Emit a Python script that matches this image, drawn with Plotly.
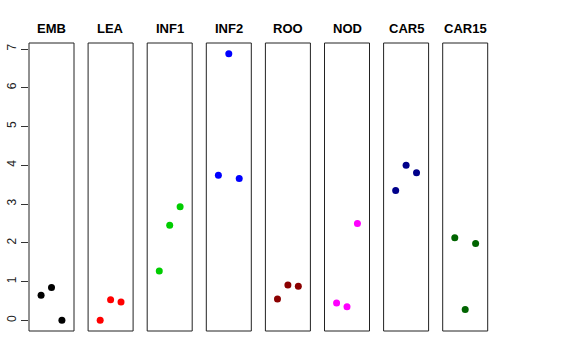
import plotly.graph_objects as go

tissues = ["EMB", "LEA", "INF1", "INF2", "ROO", "NOD", "CAR5", "CAR15"]
colors = ["#000000", "#FF0000", "#00CD00", "#0000FF", "#8B0000", "#FF00FF", "#00008B", "#006400"]
x_pos = [1, 2, 3]
values = [
    [0.65, 0.85, 0.00],
    [0.00, 0.53, 0.47],
    [1.27, 2.45, 2.93],
    [3.74, 6.88, 3.66],
    [0.55, 0.91, 0.88],
    [0.45, 0.35, 2.50],
    [3.35, 4.00, 3.81],
    [2.13, 0.28, 1.98],
]
y_ticks = [0, 1, 2, 3, 4, 5, 6, 7]

W, H = 576, 360
ml, mr, mt, mb = 29, 88, 43, 29
pw = W - ml - mr
step = 59.1
bw = 45.0

fig = go.Figure()
layout = {}
for i, (name, col, vals) in enumerate(zip(tissues, colors, values)):
    k = "" if i == 0 else str(i + 1)
    fig.add_trace(go.Scatter(
        x=x_pos, y=vals, mode="markers",
        marker=dict(color=col, size=7),
        xaxis="x" + k, yaxis="y", showlegend=False, hoverinfo="skip"))
    d0 = (i * step) / pw
    d1 = min(1.0, (i * step + bw) / pw)
    layout["xaxis" + k] = dict(domain=[d0, d1], range=[-0.16, 4.16], visible=False,
                               anchor="y", fixedrange=True, automargin=False)
    fig.add_shape(type="rect", xref="x" + k + " domain", yref="y domain",
                  x0=0, x1=1, y0=0, y1=1, line=dict(color="#222222", width=1))
    fig.add_annotation(text="<b>" + name + "</b>", xref="x" + k + " domain", yref="paper",
                       x=0.5, y=1, yshift=5, yanchor="bottom", showarrow=False,
                       font=dict(size=13, color="black", family="Liberation Sans, Arial"))

fig.update_layout(
    **layout,
    yaxis=dict(range=[-0.275, 7.155], tickvals=y_ticks, ticktext=[str(t) for t in y_ticks],
               ticks="outside", ticklen=7, tickcolor="#333333", tickangle=-90,
               tickfont=dict(size=12, color="#222222"), showgrid=False, zeroline=False,
               showline=False, fixedrange=True, automargin=False),
    width=W, height=H,
    margin=dict(l=ml, r=mr, t=mt, b=mb, autoexpand=False),
    paper_bgcolor="white", plot_bgcolor="white",
    font=dict(family="Liberation Sans, Arial", color="black"),
)
fig.write_html("out.html", config={"displayModeBar": False},
               post_script="document.body.style.margin='0';document.body.style.overflow='hidden';")
